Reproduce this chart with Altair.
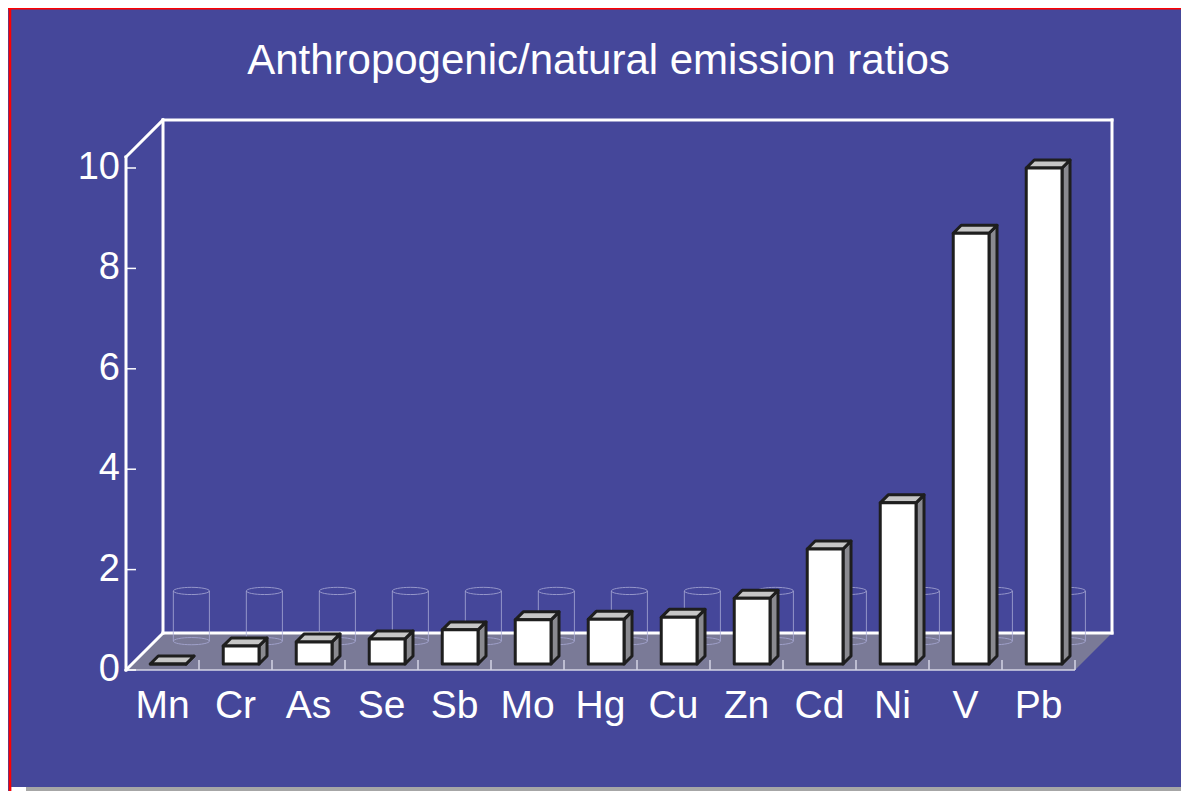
import altair as alt
import pandas as pd

# ---------------- data ----------------
elements = ["Mn", "Cr", "As", "Se", "Sb", "Mo", "Hg", "Cu", "Zn", "Cd", "Ni", "V", "Pb"]
ratios = [0.0, 0.36, 0.44, 0.50, 0.68, 0.88, 0.89, 0.93, 1.31, 2.29, 3.21, 8.58, 9.88]
reference_level = [1.0] * 13          # faint back-row cylinders
y_ticks = [0, 2, 4, 6, 8, 10]
title_text = "Anthropogenic/natural emission ratios"

# ---------------- style / projection ----------------
W, H = 1173, 783
BLUE = "#45479a"
FLOOR = "#7a7a97"
SIDE = "#8a8a90"
TOP = "#c6c6c6"
EDGE = "#1e1e1e"
GHOST = "#a9aad6"
FONT = "Liberation Sans"

N = len(elements)
DX, DY = 0.507, 0.737          # full depth of floor, in x-units / value-units
WALL_TOP = 10.22
BAR_L, BAR_R = 0.25, 0.74
D0, D1 = 0.162, 0.378
CYL_D = 0.78
CYL_HALF = 0.247

xs = alt.Scale(domain=[-118 / 73, (W - 118) / 73], nice=False, zero=False)
ys = alt.Scale(domain=[-(H - 662) / 50.2, 662 / 50.2], nice=False, zero=False)


def X(f):
    return alt.X(f, type="quantitative", scale=xs, axis=None)


def Y(f):
    return alt.Y(f, type="quantitative", scale=ys, axis=None, stack=False)


def proj(x, v, d):
    return x + d * DX, v + d * DY


# ---------------- derived tables ----------------
floor_df = pd.DataFrame({
    "y": [0, DY], "x": [0, DX], "x2": [N, N + DX]
})

segs = []
def seg(p, q):
    segs.append({"x": p[0], "y": p[1], "x2": q[0], "y2": q[1]})

seg(proj(0, 0, 0), proj(0, WALL_TOP, 0))
seg(proj(0, WALL_TOP, 0), proj(0, WALL_TOP, 1))
seg(proj(0, 0, 0), proj(0, 0, 1))
seg(proj(0, 0, 1), proj(0, WALL_TOP, 1))
seg(proj(0, WALL_TOP, 1), proj(N, WALL_TOP, 1))
seg(proj(N, WALL_TOP, 1), proj(N, 0, 1))
seg(proj(0, 0, 1), proj(N, 0, 1))
frame_df = pd.DataFrame(segs)

front_edge_df = pd.DataFrame([{"x": 0, "y": 0, "x2": N, "y2": 0}])
cat_ticks_df = pd.DataFrame({"x": list(range(1, N + 1)), "y": [0] * N, "y2": [0.2] * N})
y_ticks_df = pd.DataFrame({"x": [0] * len(y_ticks), "x2": [0.137] * len(y_ticks), "y": y_ticks,
                           "label": [str(t) for t in y_ticks]})

cyl_sides = []
cyl_ends = []
for i, r in enumerate(reference_level):
    cx, cy = proj(i + 0.5, 0, CYL_D)
    for s in (-1, 1):
        cyl_sides.append({"x": cx + s * CYL_HALF, "y": cy, "y2": cy + r})
    cyl_ends.append({"x": cx, "y": cy})
    cyl_ends.append({"x": cx, "y": cy + r})
cyl_sides_df = pd.DataFrame(cyl_sides)
cyl_ends_df = pd.DataFrame(cyl_ends)

side_rows, top_rows, front_rows = [], [], []
for i, (e, v) in enumerate(zip(elements, ratios)):
    for d in (D0, D1):
        xr, yb = proj(i + BAR_R, 0, d)
        side_rows.append({"el": e, "x": xr, "y": yb, "y2": yb + v})
        xl, yt = proj(i + BAR_L, v, d)
        xr2, _ = proj(i + BAR_R, v, d)
        top_rows.append({"el": e, "y": yt, "x": xl, "x2": xr2})
    xl, yb = proj(i + BAR_L, 0, D0)
    xr, _ = proj(i + BAR_R, 0, D0)
    front_rows.append({"el": e, "x": xl, "x2": xr, "y": yb, "y2": yb + v})
side_df = pd.DataFrame(side_rows)
top_df = pd.DataFrame(top_rows)
front_df = pd.DataFrame(front_rows)

xlab_df = pd.DataFrame({"x": [i + 0.5 for i in range(N)], "y": [0] * N, "label": elements})
dummy = pd.DataFrame({"a": [0]})

# ---------------- layers ----------------
floor = alt.Chart(floor_df).mark_area(orient="horizontal", color=FLOOR).encode(
    y=Y("y"), x=X("x"), x2="x2")

frame = alt.Chart(frame_df).mark_rule(color="white", strokeWidth=3, strokeCap="square").encode(
    x=X("x"), y=Y("y"), x2="x2", y2="y2")

front_edge = alt.Chart(front_edge_df).mark_rule(color="#d4d4e4", strokeWidth=1.5).encode(
    x=X("x"), y=Y("y"), x2="x2", y2="y2")

cat_ticks = alt.Chart(cat_ticks_df).mark_rule(color="#d4d4e4", strokeWidth=1.5).encode(
    x=X("x"), y=Y("y"), y2="y2")

ytick_marks = alt.Chart(y_ticks_df).mark_rule(color="white", strokeWidth=1.5).encode(
    x=X("x"), x2="x2", y=Y("y"))

ytick_labels = alt.Chart(y_ticks_df).mark_text(
    align="right", baseline="middle", dx=-6, font=FONT, fontSize=38, color="white").encode(
    x=X("x"), y=Y("y"), text="label:N")

cyl_side = alt.Chart(cyl_sides_df).mark_rule(color=GHOST, strokeWidth=1, opacity=0.8).encode(
    x=X("x"), y=Y("y"), y2="y2")

ellipse = "M -1 0 A 1 0.2 0 1 1 1 0 A 1 0.2 0 1 1 -1 0 Z"
cyl_end = alt.Chart(cyl_ends_df).mark_point(
    shape=ellipse, size=1296, filled=False, color=GHOST, strokeWidth=1, opacity=0.8).encode(
    x=X("x"), y=Y("y"))

sides = alt.Chart(side_df).mark_area(
    orient="vertical", color=SIDE, stroke=EDGE, strokeWidth=3, strokeJoin="round").encode(
    x=X("x"), y=Y("y"), y2="y2", detail="el:N")

tops = alt.Chart(top_df).mark_area(
    orient="horizontal", color=TOP, stroke=EDGE, strokeWidth=3, strokeJoin="round").encode(
    y=Y("y"), x=X("x"), x2="x2", detail="el:N")

fronts = alt.Chart(front_df).mark_rect(
    color="white", stroke=EDGE, strokeWidth=3, strokeJoin="round").encode(
    x=X("x"), x2="x2", y=Y("y"), y2="y2")

xlabels = alt.Chart(xlab_df).mark_text(
    align="center", baseline="alphabetic", dy=48, font=FONT, fontSize=39, color="white").encode(
    x=X("x"), y=Y("y"), text="label:N")

title = alt.Chart(dummy).mark_text(
    align="center", baseline="alphabetic", font=FONT, fontSize=42, color="white", text=title_text
).encode(x=alt.value(590.5), y=alt.value(66))

red_top = alt.Chart(dummy).mark_rule(color="#ff0000", strokeWidth=2).encode(
    x=alt.value(0), x2=alt.value(W), y=alt.value(0.5))
red_left = alt.Chart(dummy).mark_rule(color="#ff0000", strokeWidth=2.5).encode(
    x=alt.value(2), y=alt.value(0), y2=alt.value(H))
gray_strip = alt.Chart(dummy).mark_rect(color="#a6a6a6").encode(
    x=alt.value(18), x2=alt.value(W), y=alt.value(779), y2=alt.value(H))
white_strip = alt.Chart(dummy).mark_rect(color="white").encode(
    x=alt.value(3.2), x2=alt.value(18), y=alt.value(779), y2=alt.value(H))

chart = alt.layer(
    floor, front_edge, cat_ticks, frame, ytick_marks, cyl_side, cyl_end,
    sides, tops, fronts, ytick_labels, xlabels, title,
    gray_strip, white_strip, red_top, red_left
).properties(
    width=W, height=H, background=BLUE, padding=0,
    autosize=alt.AutoSizeParams(type="none")
).configure_view(strokeWidth=0)

chart.save("out.html", embed_options={"renderer": "svg", "actions": False})
